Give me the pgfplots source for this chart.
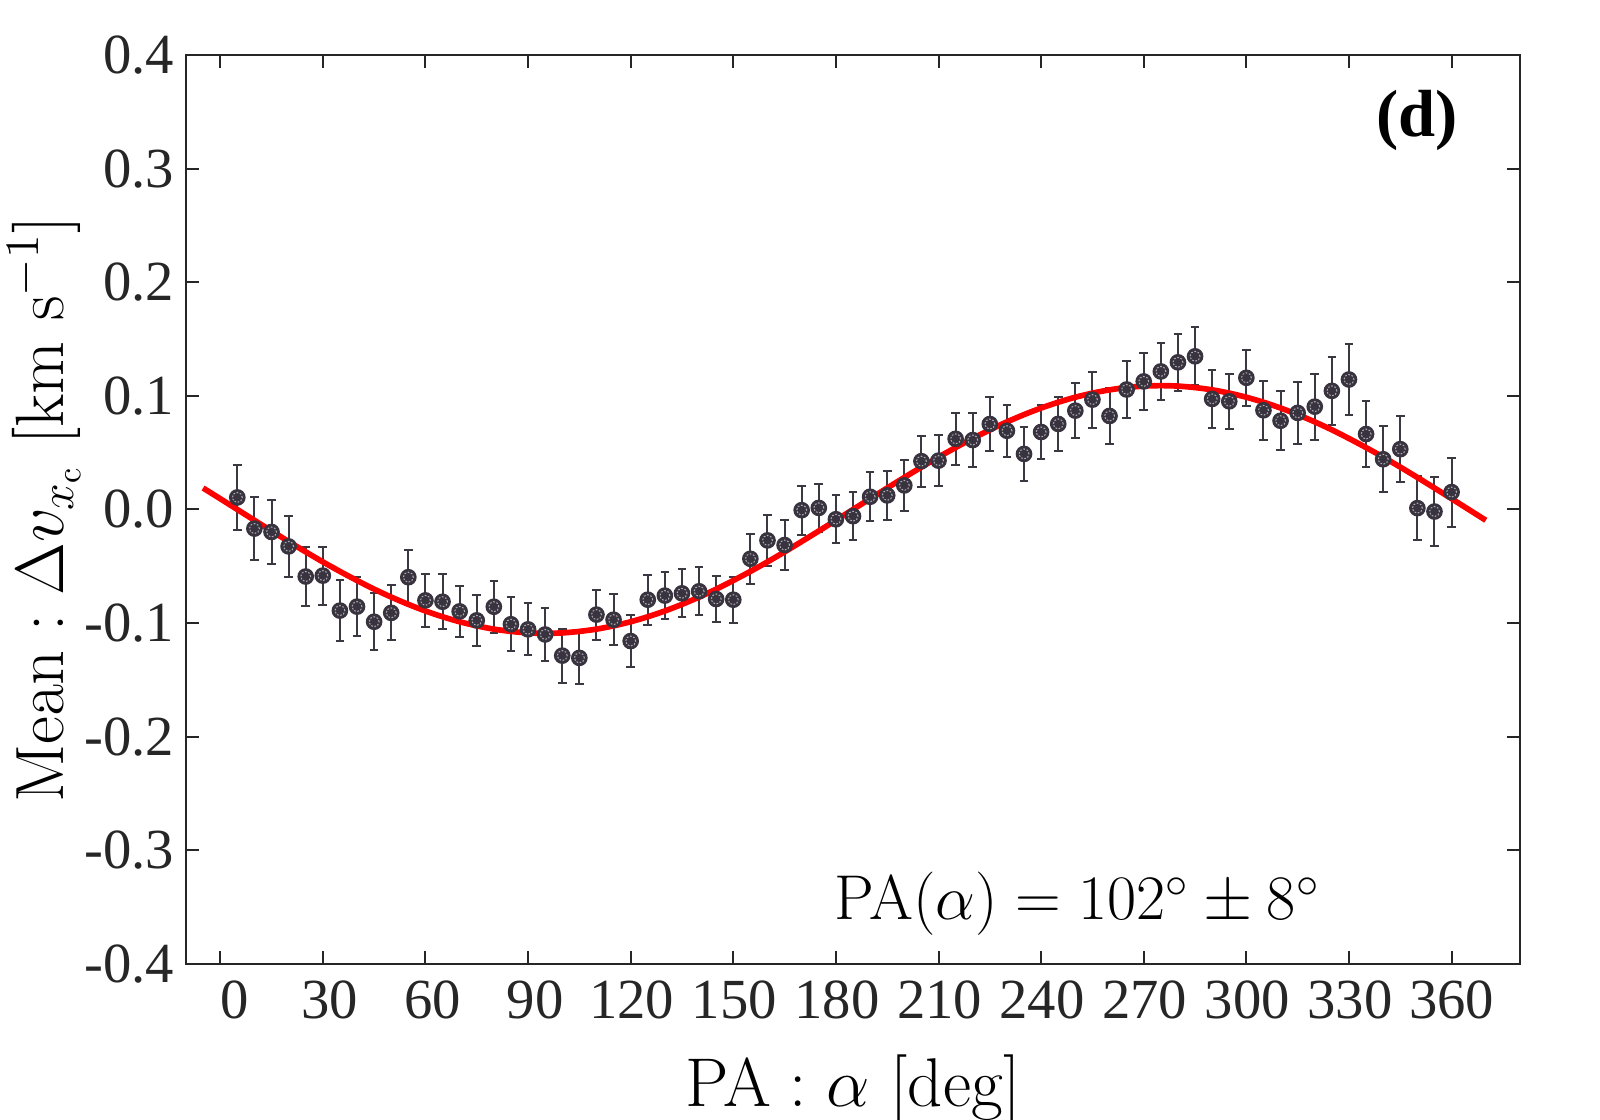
\RequirePackage{fix-cm}
\documentclass[border=0pt]{standalone}
\usepackage[no-math]{fontspec}
\usepackage{pgfplots}
\usepackage{pgfplotstable}
\pgfplotsset{compat=1.18}
\newfontfamily\tnr{Liberation Serif}
\definecolor{mk}{HTML}{38333F}
\definecolor{eb}{HTML}{3C3842}
\definecolor{axc}{HTML}{262626}

\pgfplotstableread{
x y e
5 0.0106 0.0288
10 -0.0168 0.0280
15 -0.0198 0.0280
20 -0.0325 0.0265
25 -0.0590 0.0260
30 -0.0582 0.0255
35 -0.0890 0.0267
40 -0.0855 0.0260
45 -0.0988 0.0250
50 -0.0910 0.0243
55 -0.0596 0.0240
60 -0.0800 0.0235
65 -0.0812 0.0240
70 -0.0897 0.0227
75 -0.0976 0.0223
80 -0.0856 0.0230
85 -0.1010 0.0236
90 -0.1055 0.0230
95 -0.1100 0.0230
100 -0.1286 0.0237
105 -0.1306 0.0230
110 -0.0925 0.0220
115 -0.0970 0.0224
120 -0.1158 0.0227
125 -0.0794 0.0221
130 -0.0758 0.0210
135 -0.0738 0.0210
140 -0.0720 0.0210
145 -0.0788 0.0203
150 -0.0794 0.0201
155 -0.0434 0.0220
160 -0.0272 0.0227
165 -0.0313 0.0221
170 -0.0006 0.0215
175 0.0014 0.0210
180 -0.0086 0.0212
185 -0.0059 0.0212
190 0.0112 0.0217
195 0.0124 0.0214
200 0.0212 0.0223
205 0.0425 0.0226
210 0.0430 0.0226
215 0.0622 0.0227
220 0.0611 0.0234
225 0.0752 0.0236
230 0.0693 0.0230
235 0.0489 0.0237
240 0.0682 0.0235
245 0.0753 0.0235
250 0.0870 0.0245
255 0.0967 0.0247
260 0.0823 0.0250
265 0.1056 0.0248
270 0.1127 0.0253
275 0.1215 0.0254
280 0.1295 0.0250
285 0.1348 0.0255
290 0.0973 0.0255
295 0.0952 0.0243
300 0.1159 0.0249
305 0.0873 0.0260
310 0.0781 0.0258
315 0.0850 0.0270
320 0.0905 0.0290
325 0.1044 0.0300
330 0.1144 0.0315
335 0.0664 0.0293
340 0.0442 0.0290
345 0.0531 0.0290
350 0.0012 0.0284
355 -0.0018 0.0307
360 0.0153 0.0303
}\data

\pgfplotstableread{
x y
-5 0.0189
0 0.0095
5 0
10 -0.0095
15 -0.0189
20 -0.0282
25 -0.0373
30 -0.0461
35 -0.0545
40 -0.0625
45 -0.0701
50 -0.0771
55 -0.0835
60 -0.0893
65 -0.0944
70 -0.0988
75 -0.1024
80 -0.1053
85 -0.1073
90 -0.1086
95 -0.1090
100 -0.1086
105 -0.1073
110 -0.1053
115 -0.1024
120 -0.0988
125 -0.0944
130 -0.0893
135 -0.0835
140 -0.0771
145 -0.0701
150 -0.0625
155 -0.0545
160 -0.0461
165 -0.0373
170 -0.0282
175 -0.0189
180 -0.0095
185 0
190 0.0095
195 0.0189
200 0.0282
205 0.0373
210 0.0461
215 0.0545
220 0.0625
225 0.0701
230 0.0771
235 0.0835
240 0.0893
245 0.0944
250 0.0988
255 0.1024
260 0.1053
265 0.1073
270 0.1086
275 0.1090
280 0.1086
285 0.1073
290 0.1053
295 0.1024
300 0.0988
305 0.0944
310 0.0893
315 0.0835
320 0.0771
325 0.0701
330 0.0625
335 0.0545
340 0.0461
345 0.0373
350 0.0282
355 0.0189
360 0.0095
365 0
370 -0.0095
}\fit

\begin{document}
\begin{tikzpicture}
\useasboundingbox (-55.8pt,-46.8pt) rectangle (424.2pt,289.2pt);
\begin{axis}[
  at={(0,0)}, anchor=south west,
  width=400.2pt, height=272.7pt, scale only axis,
  xmin=-10, xmax=380, ymin=-0.4, ymax=0.4,
  xtick={0,30,60,90,120,150,180,210,240,270,300,330,360},
  xticklabels={\hspace*{8.4pt}0,\hspace*{4.2pt}30,\hspace*{4.2pt}60,\hspace*{4.2pt}90,\hspace*{0.6pt}120,\hspace*{0.6pt}150,\hspace*{0.6pt}180,\hspace*{0.6pt}210,\hspace*{0.6pt}240,\hspace*{0.6pt}270,\hspace*{0.6pt}300,\hspace*{0.6pt}330,360},
  ytick={-0.4,-0.3,-0.2,-0.1,0,0.1,0.2,0.3,0.4},
  yticklabels={-0.4,-0.3,-0.2,-0.1,0.0,0.1,0.2,0.3,0.4},
  tick pos=both, tick align=inside, major tick length=4pt,
  ticklabel style={font=\tnr\fontsize{17}{20}\selectfont, text=axc},
  xticklabel style={yshift=-1.5pt},
  axis line style={axc, line width=0.6pt},
  tick style={axc, line width=0.6pt},
  xlabel={$\mathrm{PA}:\alpha\ [\mathrm{deg}]$},
  ylabel={$\mathrm{Mean}:\Delta v_{x_\mathrm{c}}\ [\mathrm{km\ s^{-1}}]$},
  xlabel style={font=\fontsize{20.7}{24}\selectfont, at={(axis description cs:0.5,-0.1573)}, anchor=base},
  ylabel style={font=\fontsize{20.5}{24}\selectfont, at={(axis description cs:-0.1065,0.5)}, anchor=center, inner sep=0pt},
  clip=false,
]
\addplot[draw=none, mark=none, forget plot,
  error bars/.cd, y dir=both, y explicit,
  error bar style={eb, line width=0.6pt},
  error mark options={eb, rotate=90, mark size=1.3pt, line width=0.6pt}]
  table[x=x, y=y, y error=e]{\data};
\addplot[only marks, mark=*, mark size=2.3pt, mark options={fill=mk, draw=mk}]
  table[x=x, y=y]{\data};
\addplot[only marks, mark=o, mark size=1.5pt,
  mark options={draw=white!60!mk, line width=0.3pt, dash pattern=on 0.5pt off 0.5pt}]
  table[x=x, y=y]{\data};
\addplot[red, line width=1.7pt, smooth, mark=none] table[x=x, y=y]{\fit};
\node[font=\tnr\bfseries\fontsize{20}{24}\selectfont] at (axis description cs:0.923,0.9285) {(d)};
\node[font=\fontsize{19}{22}\selectfont, anchor=base] at (axis description cs:0.668,0.0484) {$\mathrm{PA}(\alpha) = 102^\circ \pm 8^\circ$};
\end{axis}
\end{tikzpicture}
\end{document}
